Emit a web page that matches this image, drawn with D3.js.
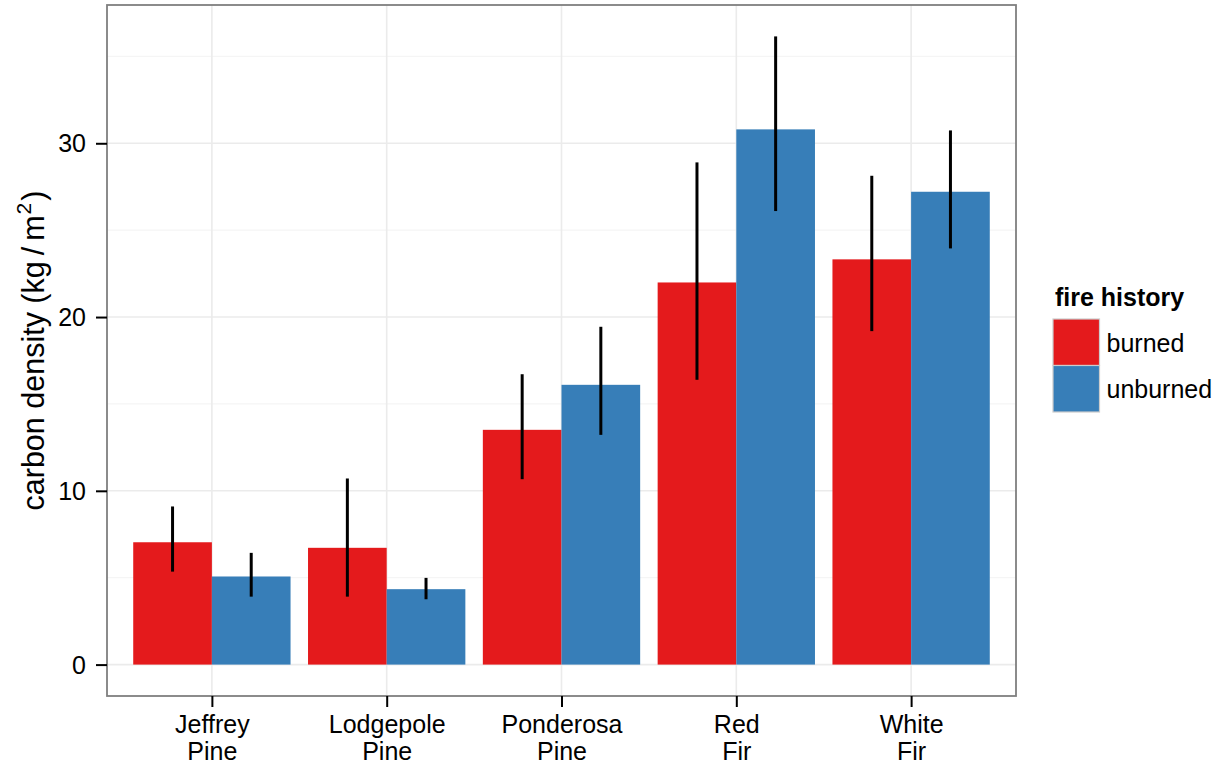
<!DOCTYPE html>
<html>
<head>
<meta charset="utf-8">
<script src="https://cdn.jsdelivr.net/npm/d3@7"></script>
<style>
  html, body { margin: 0; padding: 0; background: #fff; }
  svg { display: block; font-family: "Liberation Sans", Arial, sans-serif; }
</style>
</head>
<body>
<svg id="chart" width="1222" height="765"></svg>
<script>
// Forest types and their two-line axis labels
const categories = ["Jeffrey Pine", "Lodgepole Pine", "Ponderosa Pine", "Red Fir", "White Fir"];
const categoryLines = [["Jeffrey", "Pine"], ["Lodgepole", "Pine"], ["Ponderosa", "Pine"], ["Red", "Fir"], ["White", "Fir"]];
const groups = ["burned", "unburned"];

// Mean carbon density (kg/m^2) and error bar limits per fire history
const burnedMean  = [7.04, 6.72, 13.51, 21.99, 23.32];
const burnedLow   = [5.35, 3.91, 10.67, 16.39, 19.19];
const burnedHigh  = [9.10, 10.71, 16.71, 28.90, 28.13];
const unburnedMean = [5.07, 4.34, 16.10, 30.80, 27.21];
const unburnedLow  = [3.91, 3.76, 13.22, 26.10, 23.95];
const unburnedHigh = [6.43, 4.99, 19.44, 36.15, 30.74];

const yTicks = [0, 10, 20, 30];
const yMinor = [5, 15, 25, 35];
const colors = ["#E41A1C", "#377EB8"];

const rows = [];
categories.forEach((c, i) => {
  rows.push({cat: c, group: "burned", mean: burnedMean[i], lo: burnedLow[i], hi: burnedHigh[i]});
  rows.push({cat: c, group: "unburned", mean: unburnedMean[i], lo: unburnedLow[i], hi: unburnedHigh[i]});
});

const FONT = "'Liberation Sans', Arial, sans-serif";
const svg = d3.select("#chart");
const panel = {left: 107, top: 5, right: 1016, bottom: 696};

// y domain padded by 5% of the data range
const yMax = d3.max(rows, d => d.hi);
const pad = yMax * 0.05;
const y = d3.scaleLinear().domain([-pad, yMax + pad]).range([panel.bottom, panel.top]);

// discrete x: 0.6 unit expansion on each side
const xc = d3.scaleLinear().domain([0.4, categories.length + 0.6]).range([panel.left, panel.right]);
const unit = xc(2) - xc(1);
const barW = unit * 0.9 / 2;
const gColor = d3.scaleOrdinal().domain(groups).range(colors);
const gIndex = d3.scaleOrdinal().domain(groups).range([0, 1]);
const catIdx = c => categories.indexOf(c) + 1;

// panel background and grid
svg.append("rect").attr("x", panel.left).attr("y", panel.top)
  .attr("width", panel.right - panel.left).attr("height", panel.bottom - panel.top).attr("fill", "#fff");

const grid = svg.append("g");
grid.selectAll(".ymin").data(yMinor).join("line")
  .attr("x1", panel.left).attr("x2", panel.right)
  .attr("y1", d => y(d)).attr("y2", d => y(d))
  .attr("stroke", "#f5f5f5").attr("stroke-width", 1.2);
grid.selectAll(".ymaj").data(yTicks).join("line")
  .attr("x1", panel.left).attr("x2", panel.right)
  .attr("y1", d => y(d)).attr("y2", d => y(d))
  .attr("stroke", "#ebebeb").attr("stroke-width", 1.6);
grid.selectAll(".xmaj").data(categories).join("line")
  .attr("x1", d => xc(catIdx(d))).attr("x2", d => xc(catIdx(d)))
  .attr("y1", panel.top).attr("y2", panel.bottom)
  .attr("stroke", "#ebebeb").attr("stroke-width", 1.6);

// bars
svg.append("g").selectAll("rect").data(rows).join("rect")
  .attr("x", d => xc(catIdx(d.cat)) - barW + gIndex(d.group) * barW)
  .attr("width", barW)
  .attr("y", d => y(d.mean))
  .attr("height", d => y(0) - y(d.mean))
  .attr("fill", d => gColor(d.group));

// error bars
svg.append("g").selectAll("line").data(rows).join("line")
  .attr("x1", d => xc(catIdx(d.cat)) - barW / 2 + gIndex(d.group) * barW)
  .attr("x2", d => xc(catIdx(d.cat)) - barW / 2 + gIndex(d.group) * barW)
  .attr("y1", d => y(d.lo)).attr("y2", d => y(d.hi))
  .attr("stroke", "#000").attr("stroke-width", 3);

// panel border
svg.append("rect").attr("x", panel.left).attr("y", panel.top)
  .attr("width", panel.right - panel.left).attr("height", panel.bottom - panel.top)
  .attr("fill", "none").attr("stroke", "#7f7f7f").attr("stroke-width", 1.8);

// y axis
const yAxis = svg.append("g").attr("transform", `translate(${panel.left},0)`)
  .call(d3.axisLeft(y).tickValues(yTicks).tickSize(11).tickPadding(10).tickFormat(d3.format("d")));
yAxis.select(".domain").remove();
yAxis.selectAll(".tick line").attr("stroke", "#000").attr("stroke-width", 2);
yAxis.selectAll(".tick text").attr("font-size", 25).attr("fill", "#000")
  .attr("font-family", FONT).attr("dy", "0.34em");

// x axis
const xAxis = svg.append("g").attr("transform", `translate(0,${panel.bottom})`)
  .call(d3.axisBottom(xc).tickValues(categories.map((c, i) => i + 1)).tickSize(11).tickFormat(""));
xAxis.select(".domain").remove();
xAxis.selectAll(".tick line").attr("stroke", "#000").attr("stroke-width", 2);
xAxis.selectAll(".tick").each(function(d) {
  const t = d3.select(this).append("text")
    .attr("text-anchor", "middle").attr("font-size", 25).attr("fill", "#000")
    .attr("font-family", FONT);
  categoryLines[d - 1].forEach((line, k) => {
    t.append("tspan").attr("x", 0).attr("y", 37 + k * 27).text(line);
  });
});

// y axis title
const yt = svg.append("text")
  .attr("transform", `translate(44,${(panel.top + panel.bottom) / 2}) rotate(-90)`)
  .attr("text-anchor", "middle").attr("font-size", 30.5).attr("fill", "#000");
yt.append("tspan").text("carbon density (kg");
yt.append("tspan").attr("dx", 6).text("/");
yt.append("tspan").attr("dx", 6).text("m");
yt.append("tspan").attr("font-size", 21).attr("dy", -13).attr("dx", 1).text("2");
yt.append("tspan").attr("dy", 13).attr("dx", 2).text(")");

// legend
const lg = svg.append("g").attr("transform", "translate(1053,0)");
lg.append("text").attr("x", 2).attr("y", 306).attr("font-size", 25).attr("font-weight", "bold")
  .attr("fill", "#000").text("fire history");
const keyH = 46.5;
const items = lg.selectAll(".item").data(groups).join("g")
  .attr("transform", (d, i) => `translate(0,${319 + i * keyH})`);
items.append("rect").attr("width", keyH).attr("height", keyH)
  .attr("fill", d => gColor(d)).attr("stroke", "#cccccc").attr("stroke-width", 1.2);
items.append("text").attr("x", keyH + 7).attr("y", 32.5)
  .attr("font-size", 25).attr("fill", "#000").text(d => d);
</script>
</body>
</html>
